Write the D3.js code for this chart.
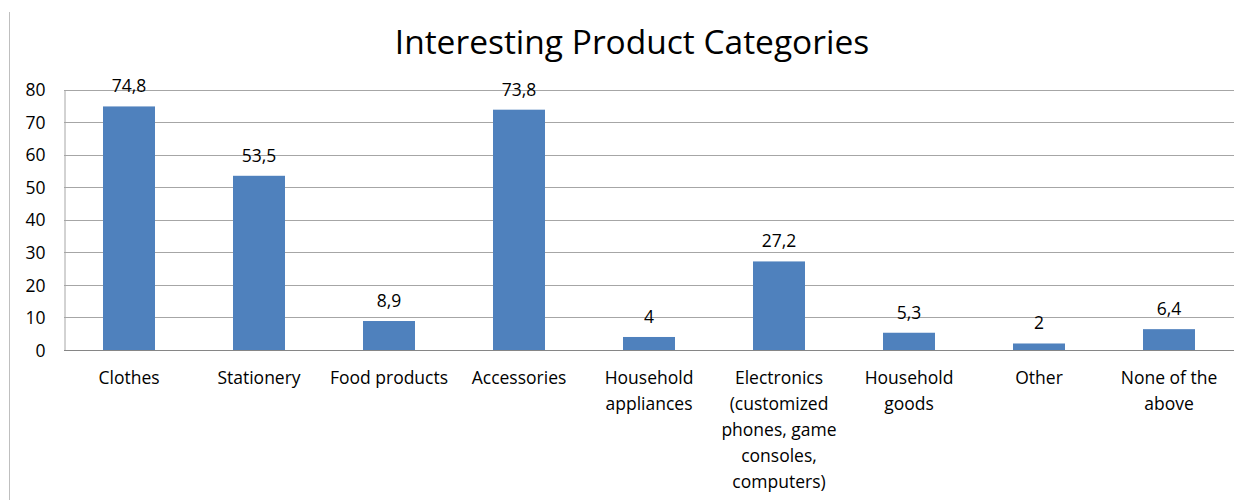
<!DOCTYPE html>
<html>
<head>
<meta charset="utf-8">
<script src="https://cdn.jsdelivr.net/npm/d3@7"></script>
<style>
  body { margin: 0; background: #fff; }
  text { font-family: "Open Sans", "Noto Sans", sans-serif; fill: #000; }
</style>
</head>
<body>
<div id="chart"></div>
<script>
const categories = [
  ["Clothes"],
  ["Stationery"],
  ["Food products"],
  ["Accessories"],
  ["Household", "appliances"],
  ["Electronics", "(customized", "phones, game", "consoles,", "computers)"],
  ["Household", "goods"],
  ["Other"],
  ["None of the", "above"]
];
const values = [74.8, 53.5, 8.9, 73.8, 4, 27.2, 5.3, 2, 6.4];
const yTicks = [0, 10, 20, 30, 40, 50, 60, 70, 80];
const title = "Interesting Product Categories";

const width = 1236, height = 500;
const margin = { top: 89.5, right: 2, bottom: 150, left: 64 };

const svg = d3.select("#chart")
  .append("svg")
  .attr("width", width)
  .attr("height", height);

// outer chart border (left edge only visible)
svg.append("line")
  .attr("x1", 9.5).attr("x2", 9.5)
  .attr("y1", 12).attr("y2", height)
  .attr("stroke", "#bfbfbf");

const x = d3.scaleBand()
  .domain(d3.range(values.length))
  .range([margin.left, width - margin.right])
  .paddingInner(0.6)
  .paddingOuter(0.3);

const y = d3.scaleLinear()
  .domain([0, 80])
  .range([350, margin.top]);

// gridlines
svg.append("g")
  .selectAll("line")
  .data(yTicks.slice(1))
  .join("line")
  .attr("x1", margin.left)
  .attr("x2", width - margin.right)
  .attr("y1", d => Math.round(y(d)) + 0.5)
  .attr("y2", d => Math.round(y(d)) + 0.5)
  .attr("stroke", "#a6a6a6");

// y axis
const yAxis = svg.append("g")
  .attr("transform", `translate(${margin.left + 0.5},0)`)
  .call(d3.axisLeft(y).tickValues(yTicks).tickSize(0).tickPadding(19));
yAxis.select(".domain").attr("stroke", "#a6a6a6");
yAxis.selectAll("text").attr("font-size", 17.5).attr("dy", "0.35em");

// bars
svg.append("g")
  .selectAll("rect")
  .data(values)
  .join("rect")
  .attr("x", (d, i) => x(i))
  .attr("width", x.bandwidth())
  .attr("y", d => y(d))
  .attr("height", d => y(0) - y(d))
  .attr("fill", "#4f81bd");

// x axis line
svg.append("line")
  .attr("x1", margin.left)
  .attr("x2", width - margin.right)
  .attr("y1", Math.round(y(0)) + 0.5)
  .attr("y2", Math.round(y(0)) + 0.5)
  .attr("stroke", "#868686");

// value labels
svg.append("g")
  .attr("text-anchor", "middle")
  .attr("font-size", 17.5)
  .selectAll("text")
  .data(values)
  .join("text")
  .attr("x", (d, i) => x(i) + x.bandwidth() / 2)
  .attr("y", d => y(d) - 14)
  .text(d => String(d).replace(".", ","));

// category labels
svg.append("g")
  .attr("text-anchor", "middle")
  .attr("font-size", 17.5)
  .selectAll("text")
  .data(categories)
  .join("text")
  .attr("transform", (d, i) => `translate(${x(i) + x.bandwidth() / 2},384)`)
  .selectAll("tspan")
  .data(d => d)
  .join("tspan")
  .attr("x", 0)
  .attr("y", (d, i) => i * 26)
  .text(d => d);

// title
svg.append("text")
  .attr("x", 632)
  .attr("y", 54)
  .attr("text-anchor", "middle")
  .attr("font-size", 33.5)
  .text(title);
</script>
</body>
</html>
